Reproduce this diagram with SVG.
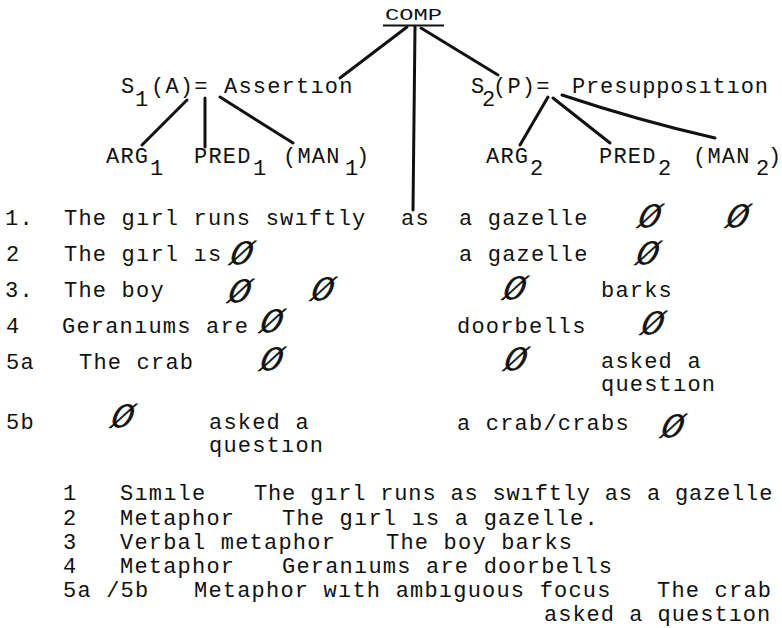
<svg xmlns="http://www.w3.org/2000/svg" width="782" height="628" viewBox="0 0 782 628">
<style>
.t{font-family:"Liberation Mono","Courier New",monospace;font-size:22px;letter-spacing:1.2px;fill:#111}
.z{letter-spacing:0}
.c{font-family:"Liberation Mono","Courier New",monospace;font-size:16px;fill:#111}
.n{font-family:"Liberation Serif","Times New Roman",serif;font-style:italic;font-size:34px;fill:#111;stroke:#111;stroke-width:0.9;text-anchor:middle;transform-box:fill-box;transform-origin:center;transform:skewX(-14deg) scaleX(0.85)}
.e{stroke:#111;stroke-width:3;stroke-linecap:round;fill:none}
</style>
<rect width="782" height="628" fill="#fff"/>
<g id="connectors">
<line class="e" x1="407" y1="27" x2="340" y2="78"/>
<line class="e" x1="415" y1="27" x2="413" y2="210"/>
<line class="e" x1="421" y1="28" x2="498" y2="75"/>
<line class="e" x1="187" y1="100" x2="142" y2="145"/>
<line class="e" x1="205" y1="98" x2="205" y2="147"/>
<line class="e" x1="220" y1="97" x2="293" y2="143"/>
<line class="e" x1="548" y1="97" x2="520" y2="145"/>
<line class="e" x1="553" y1="98" x2="610" y2="143"/>
<path class="e" d="M562 95 Q640 121 715 138"/>
</g>
<g id="comp">
<text class="c" x="385" y="20" textLength="57" lengthAdjust="spacingAndGlyphs">COMP</text>
<line x1="383" y1="25.5" x2="444" y2="25.5" stroke="#111" stroke-width="2"/>
</g>
<g id="s1">
<text class="t" x="121" y="93"><tspan class="z">S</tspan><tspan class="z" x="135" y="106">1</tspan><tspan x="151" y="93">(A)=</tspan><tspan x="224" y="93">Assertıon</tspan></text>
</g>
<g id="s2">
<text class="t" x="471" y="93"><tspan class="z">S</tspan><tspan class="z" x="482" y="106">2</tspan><tspan x="493" y="93">(P)=</tspan><tspan x="572" y="93" style="letter-spacing:0.85px">Presupposıtıon</tspan></text>
</g>
<g id="arg1"><text class="t" x="106" y="163">ARG<tspan x="150" y="175">1</tspan></text></g>
<g id="pred1"><text class="t" x="194" y="163">PRED<tspan x="253" y="175">1</tspan></text></g>
<g id="man1"><text class="t" x="283" y="163">(MAN<tspan class="z" x="345" y="175">1</tspan><tspan x="356" y="163">)</tspan></text></g>
<g id="arg2"><text class="t" x="486" y="163">ARG<tspan x="530" y="175">2</tspan></text></g>
<g id="pred2"><text class="t" x="599" y="163">PRED<tspan x="658" y="175">2</tspan></text></g>
<g id="man2"><text class="t" x="693" y="163">(MAN<tspan class="z" x="756" y="175">2</tspan><tspan x="768" y="163">)</tspan></text></g>
<g id="as"><text class="t" x="401" y="225">as</text></g>
<g id="row1">
<text class="t" x="5" y="225">1.</text><text class="t" x="64" y="225">The gırl runs swıftly</text><text class="t" x="459" y="225">a gazelle</text>
<text class="n" x="650" y="227">Ø</text><text class="n" x="738" y="227">Ø</text>
</g>
<g id="row2">
<text class="t" x="6" y="261">2</text><text class="t" x="64" y="261">The gırl ıs</text><text class="n" x="242" y="264">Ø</text><text class="t" x="459" y="261">a gazelle</text><text class="n" x="648" y="264">Ø</text>
</g>
<g id="row3">
<text class="t" x="5" y="297">3.</text><text class="t" x="64" y="297">The boy</text><text class="n" x="240" y="302">Ø</text><text class="n" x="323" y="300">Ø</text><text class="n" x="515" y="299">Ø</text><text class="t" x="601" y="297">barks</text>
</g>
<g id="row4">
<text class="t" x="6" y="333">4</text><text class="t" x="62" y="333">Geranıums are</text><text class="n" x="272" y="332">Ø</text><text class="t" x="457" y="333">doorbells</text><text class="n" x="653" y="334">Ø</text>
</g>
<g id="row5a">
<text class="t" x="6" y="369">5a</text><text class="t" x="79" y="369">The crab</text><text class="n" x="272" y="370">Ø</text><text class="n" x="516" y="370">Ø</text><text class="t" x="601" y="368">asked a</text><text class="t" x="601" y="391">questıon</text>
</g>
<g id="row5b">
<text class="t" x="6" y="429">5b</text><text class="n" x="123" y="427">Ø</text><text class="t" x="209" y="429">asked a</text><text class="t" x="209" y="452">questıon</text><text class="t" x="457" y="430">a crab/crabs</text><text class="n" x="673" y="437">Ø</text>
</g>
<g id="legend">
<text class="t" x="63" y="500">1</text><text class="t" x="120" y="500">Sımıle</text><text class="t" x="254" y="500" style="letter-spacing:0.83px">The gırl runs as swıftly as a gazelle</text>
<text class="t" x="63" y="524.5">2</text><text class="t" x="120" y="524.5">Metaphor</text><text class="t" x="282" y="524.5">The gırl ıs a gazelle.</text>
<text class="t" x="63" y="549">3</text><text class="t" x="120" y="549">Verbal metaphor</text><text class="t" x="386" y="549">The boy barks</text>
<text class="t" x="63" y="573">4</text><text class="t" x="120" y="573">Metaphor</text><text class="t" x="282" y="573">Geranıums are doorbells</text>
<text class="t" x="63" y="597">5a /5b</text><text class="t" x="194" y="597">Metaphor wıth ambıguous focus</text><text class="t" x="657" y="597">The crab</text>
<text class="t" x="544" y="621" style="letter-spacing:1px">asked a questıon</text>
</g>
</svg>
